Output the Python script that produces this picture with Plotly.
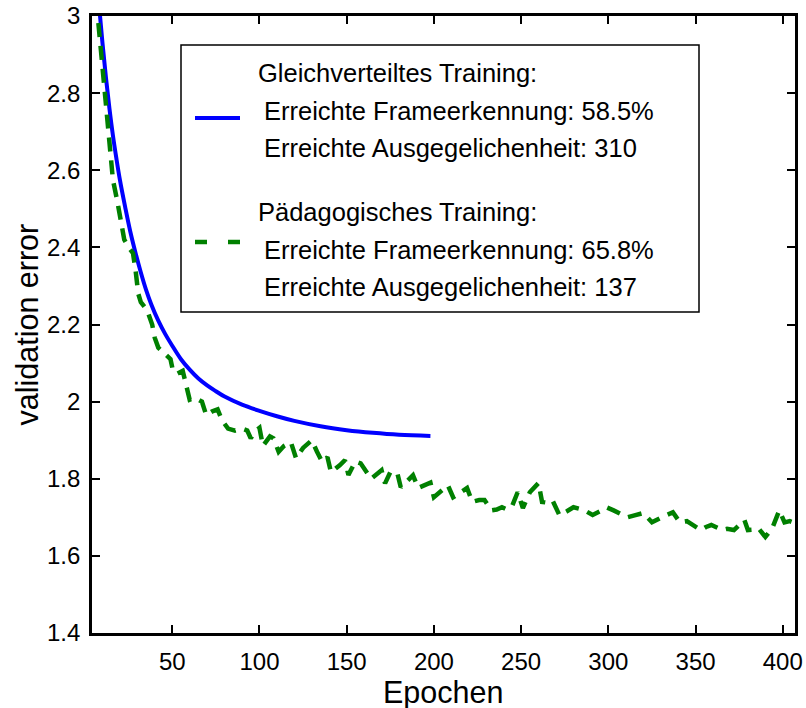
import plotly.graph_objects as go

# Validation error per epoch, uniform training (smooth curve)
epochs_uniform = [4, 6, 8, 10, 12, 14, 16, 18, 20, 23, 26, 29, 32, 35, 38, 42, 46, 50, 55,
                  60, 65, 70, 75, 80, 90, 100, 110, 120, 135, 150, 165, 180, 198]
error_uniform = [3.30, 3.14, 3.03, 2.93, 2.84, 2.76, 2.69, 2.63, 2.575, 2.505, 2.44, 2.385,
                 2.335, 2.29, 2.252, 2.21, 2.175, 2.145, 2.11, 2.083, 2.06, 2.042, 2.027,
                 2.013, 1.992, 1.976, 1.962, 1.950, 1.936, 1.926, 1.919, 1.914, 1.911]

# Validation error per epoch, pedagogical training (noisy curve)
epochs_ped = [4, 6, 8, 10, 12, 14, 16, 18.5, 20.7, 22.5, 25, 27.5, 29, 30.5, 32, 35.6, 38.5,
              40, 42, 46, 49, 50.5, 53, 56, 58.5, 60, 63, 67, 69.5, 73, 76, 78.5, 82, 86,
              90, 93, 95, 98, 100, 102, 106, 108, 111, 114, 118, 121, 125, 130, 133, 136,
              139, 141, 146, 149, 151, 155, 158, 161, 164, 170, 172, 175, 179, 181, 185,
              188, 191, 195, 198, 200, 205, 208, 211, 216, 219, 222, 226, 229, 233, 236,
              239, 242, 245, 248, 251, 255, 260, 262, 265, 268, 272, 276, 280, 286, 291,
              295, 299, 303, 306, 311, 315, 320, 325, 328, 332, 337, 341, 345, 349, 353,
              356, 359, 363, 365, 368, 372, 378, 380, 383, 386, 390, 394, 398, 401, 404, 407]
error_ped = [3.16, 3.06, 2.98, 2.86, 2.76, 2.66, 2.575, 2.52, 2.46, 2.42, 2.40, 2.385, 2.34,
             2.28, 2.258, 2.237, 2.20, 2.165, 2.14, 2.125, 2.11, 2.078, 2.073, 2.08, 2.035,
             2.005, 2.01, 2.0, 1.965, 1.975, 1.98, 1.952, 1.93, 1.925, 1.93, 1.925, 1.905,
             1.925, 1.932, 1.885, 1.91, 1.905, 1.87, 1.885, 1.895, 1.853, 1.88, 1.90, 1.87,
             1.843, 1.856, 1.817, 1.835, 1.848, 1.81, 1.845, 1.84, 1.82, 1.80, 1.822, 1.788,
             1.817, 1.815, 1.778, 1.795, 1.809, 1.776, 1.785, 1.79, 1.752, 1.77, 1.783,
             1.752, 1.765, 1.776, 1.74, 1.745, 1.745, 1.718, 1.72, 1.726, 1.72, 1.731, 1.765,
             1.724, 1.765, 1.789, 1.74, 1.738, 1.744, 1.705, 1.715, 1.726, 1.719, 1.706,
             1.715, 1.726, 1.718, 1.711, 1.70, 1.705, 1.711, 1.687, 1.695, 1.703, 1.713,
             1.687, 1.69, 1.68, 1.667, 1.675, 1.68, 1.672, 1.667, 1.67, 1.667, 1.693, 1.667,
             1.668, 1.672, 1.649, 1.672, 1.718, 1.687, 1.69, 1.685]

x_ticks = [50, 100, 150, 200, 250, 300, 350, 400]
y_ticks = [1.4, 1.6, 1.8, 2.0, 2.2, 2.4, 2.6, 2.8, 3.0]
y_tick_text = ["1.4", "1.6", "1.8", "2", "2.2", "2.4", "2.6", "2.8", "3"]

legend_uniform = ["Gleichverteiltes Training:",
                  "Erreichte Frameerkennung: 58.5%",
                  "Erreichte Ausgegelichenheit: 310"]
legend_ped = ["Pädagogisches Training:",
              "Erreichte Frameerkennung: 65.8%",
              "Erreichte Ausgegelichenheit: 137"]

BLUE = "#0000FF"
GREEN = "#008000"
FONT = "Liberation Sans, Arial, Helvetica, sans-serif"

W, H = 806, 708
ML, MR, MT, MB = 92, 11, 16, 75
PW, PH = W - ML - MR, H - MT - MB


def px_x(p):
    return (p - ML) / PW


def px_y(p):
    return (MT + PH - p) / PH


fig = go.Figure()
fig.add_trace(go.Scatter(x=epochs_uniform, y=error_uniform, mode="lines",
                         line=dict(color=BLUE, width=4, shape="spline", smoothing=1.0),
                         showlegend=False))
fig.add_trace(go.Scatter(x=epochs_ped, y=error_ped, mode="lines",
                         line=dict(color=GREEN, width=4.5, dash="14px,9px"),
                         showlegend=False))

axis_common = dict(showline=True, linecolor="black", linewidth=2.8, mirror="allticks",
                   ticks="inside", ticklen=8, tickwidth=2, tickcolor="black",
                   showgrid=False, zeroline=False, automargin=False,
                   tickfont=dict(family=FONT, size=24, color="black"))

fig.update_xaxes(range=[4, 407], tickvals=x_ticks, ticklabelstandoff=5, **axis_common)
fig.update_yaxes(range=[1.4, 3.0], tickvals=y_ticks, ticktext=y_tick_text,
                 ticklabelstandoff=4, **axis_common)

# Legend box
shapes = [dict(type="rect", xref="paper", yref="paper",
               x0=px_x(181), x1=px_x(699), y0=px_y(312), y1=px_y(45),
               line=dict(color="black", width=1.5), fillcolor="white", layer="above")]
# Legend keys: solid blue stroke, two green dashes
shapes.append(dict(type="line", xref="paper", yref="paper",
                   x0=px_x(195), x1=px_x(240), y0=px_y(118), y1=px_y(118),
                   line=dict(color=BLUE, width=4), layer="above"))
for a, b in [(195, 207), (228, 240)]:
    shapes.append(dict(type="line", xref="paper", yref="paper",
                       x0=px_x(a), x1=px_x(b), y0=px_y(242), y1=px_y(242),
                       line=dict(color=GREEN, width=4.5), layer="above"))

annotations = []
line_y = [[73, 111, 148], [212, 250, 287]]
for lines, ys in zip([legend_uniform, legend_ped], line_y):
    for i, (txt, yy) in enumerate(zip(lines, ys)):
        annotations.append(dict(text=txt, xref="paper", yref="paper",
                                x=px_x(256 if i == 0 else 262), y=px_y(yy),
                                xanchor="left", yanchor="middle", showarrow=False,
                                font=dict(family=FONT, size=25.5, color="black")))

# Axis titles
annotations.append(dict(text="Epochen", xref="paper", yref="paper",
                        x=px_x(443), y=px_y(692), xanchor="center", yanchor="middle",
                        showarrow=False, font=dict(family=FONT, size=30.5, color="black")))
annotations.append(dict(text="validation error", xref="paper", yref="paper",
                        x=px_x(26), y=0.5, xanchor="center", yanchor="middle",
                        textangle=-90, showarrow=False,
                        font=dict(family=FONT, size=30.5, color="black")))

fig.update_layout(width=W, height=H, margin=dict(l=ML, r=MR, t=MT, b=MB),
                  paper_bgcolor="white", plot_bgcolor="white",
                  shapes=shapes, annotations=annotations, showlegend=False)

fig.write_html("out.html")
